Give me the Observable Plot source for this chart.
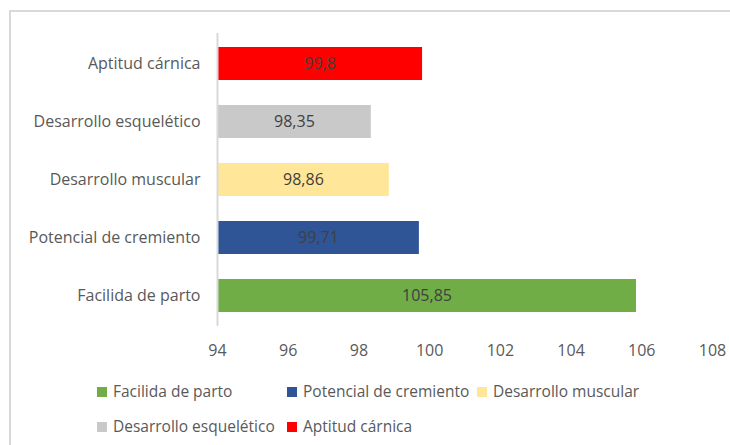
<!DOCTYPE html>
<html>
<head>
<meta charset="utf-8">
<script src="https://cdn.jsdelivr.net/npm/d3@7"></script>
<script src="https://cdn.jsdelivr.net/npm/@observablehq/plot@0.6"></script>
<style>
  html, body { margin: 0; padding: 0; background: #fff; overflow: hidden; }
  #wrap { position: relative; width: 730px; height: 445px; font-family: "Open Sans", "Liberation Sans", sans-serif; }
  #frame { position: absolute; left: 9px; top: 10px; width: 800px; height: 500px;
           border-top: 2px solid #d9d9d9; border-left: 2px solid #d9d9d9; pointer-events: none; }
  #chart { position: absolute; left: 0; top: 0; }
  .leg { position: absolute; font-size: 15.5px; color: #595959; white-space: nowrap; line-height: 20px; }
  .leg span.sw { display: inline-block; width: 10px; height: 10px; margin-right: 6px; vertical-align: 0px; }
</style>
</head>
<body>
<div id="wrap">
  <div id="frame"></div>
  <div id="chart"></div>
</div>
<script>
const categories = ["Aptitud cárnica", "Desarrollo esquelético", "Desarrollo muscular", "Potencial de cremiento", "Facilida de parto"];
const values = [99.8, 98.35, 98.86, 99.71, 105.85];
const colors = ["#ff0000", "#c9c9c9", "#ffe699", "#2f5597", "#70ad47"];
const xTicks = [94, 96, 98, 100, 102, 104, 106, 108];
const legendOrder = ["Facilida de parto", "Potencial de cremiento", "Desarrollo muscular", "Desarrollo esquelético", "Aptitud cárnica"];

const data = categories.map((c, i) => ({category: c, value: values[i]}));
const fmt = v => String(v).replace(".", ",");

const chart = Plot.plot({
  width: 730,
  height: 370,
  marginLeft: 217,
  marginRight: 18,
  marginTop: 33,
  marginBottom: 44,
  style: {fontFamily: "'Open Sans', 'Liberation Sans', sans-serif", fontSize: "16px", color: "#595959", background: "transparent"},
  x: {domain: [94, 108], ticks: xTicks, tickFormat: d => d, tickSize: 0, tickPadding: 19, label: null},
  y: {domain: categories, paddingInner: 0.43, paddingOuter: 0.215, tickSize: 0, tickPadding: 17, label: null},
  color: {domain: categories, range: colors},
  marks: [
    Plot.barX(data, {y: "category", x1: 94, x2: "value", fill: "category"}),
    Plot.ruleX([94], {stroke: "#d9d9d9", strokeWidth: 2}),
    Plot.text(data, {y: "category", x: d => (94 + d.value) / 2, text: d => fmt(d.value), fill: "#404040", fontSize: 16}),
    Plot.axisX({ticks: xTicks, tickSize: 0, tickPadding: 18, fontSize: 16, fill: "#595959", label: null}),
    Plot.axisY({tickSize: 0, tickPadding: 17, fontSize: 16, fill: "#595959", label: null})
  ]
});
document.getElementById("chart").appendChild(chart);

const wrap = document.getElementById("wrap");
const cols = [97, 287, 477];
const rows = [391, 426];
legendOrder.forEach((name, i) => {
  const col = i % 3, row = Math.floor(i / 3);
  const div = document.createElement("div");
  div.className = "leg";
  div.style.left = cols[col] + "px";
  div.style.top = (rows[row] - 10) + "px";
  const sw = document.createElement("span");
  sw.className = "sw";
  sw.style.background = colors[categories.indexOf(name)];
  div.appendChild(sw);
  div.appendChild(document.createTextNode(name));
  wrap.appendChild(div);
});
</script>
</body>
</html>
